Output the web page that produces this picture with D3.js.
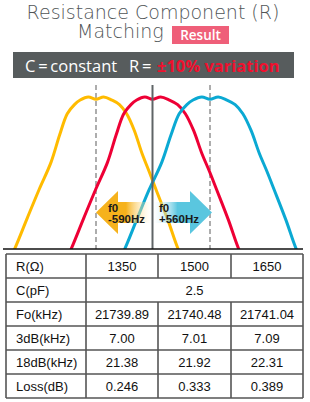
<!DOCTYPE html>
<html>
<head>
<meta charset="utf-8">
<script src="https://cdn.jsdelivr.net/npm/d3@7"></script>
<style>
  body { margin: 0; background: #fff; }
  svg { display: block; }
</style>
</head>
<body>
<div class="chart"></div>
<script>
'use strict';

// nominal shifts of the three resonators (Hz) : R = 1350, 1500, 1650
var shifts = [-590, 0, 560];
var curveColors = ['#ffbb00', '#ee0035', '#0ba9d3'];

// passband shape relative to its own f0 (Hz offset -> relative level)
var shapeHz = [-850, -720, -595, -470, -380, -300, -225, -165, -80, 0, 80, 165, 245, 320, 400, 480, 555, 625, 740, 840];
var shapeLevel = [0, 0.2, 0.39, 0.57, 0.75, 0.89, 0.95, 0.98, 1.0, 0.985, 1.0, 0.98, 0.95, 0.89, 0.78, 0.63, 0.51, 0.39, 0.19, 0];

var shiftLabels = ['-590Hz', '+560Hz'];

// table
var rowLabels = ['R(\u03A9)', 'C(pF)', 'Fo(kHz)', '3dB(kHz)', '18dB(kHz)', 'Loss(dB)'];
var resistance = ['1350', '1500', '1650'];
var capacitance = '2.5';
var foValues = ['21739.89', '21740.48', '21741.04'];
var bw3dB = ['7.00', '7.01', '7.09'];
var bw18dB = ['21.38', '21.92', '22.31'];
var lossValues = ['0.246', '0.333', '0.389'];

var width = 310, height = 402;

var svg = d3.select('div.chart').append('svg')
    .attr('width', width)
    .attr('height', height);

// ---- title ----
var titleFont = '"DejaVu Sans", "Open Sans", sans-serif';
svg.append('text')
    .attr('x', 153).attr('y', 18.5)
    .attr('text-anchor', 'middle')
    .attr('font-family', titleFont)
    .attr('font-weight', 200)
    .attr('font-size', 19)
    .attr('fill', '#505557')
    .text('Resistance Component (R)');

svg.append('text')
    .attr('x', 77).attr('y', 38)
    .attr('font-family', titleFont)
    .attr('font-weight', 200)
    .attr('font-size', 19)
    .attr('fill', '#505557')
    .text('Matching');

svg.append('rect')
    .attr('x', 172).attr('y', 26)
    .attr('width', 57).attr('height', 18)
    .attr('fill', '#ef5f79');
svg.append('text')
    .attr('x', 200.5).attr('y', 40)
    .attr('text-anchor', 'middle')
    .attr('font-family', '"Open Sans", sans-serif')
    .attr('font-weight', 600)
    .attr('font-size', 13.5)
    .attr('fill', '#fff')
    .text('Result');

// ---- condition bar ----
svg.append('rect')
    .attr('x', 13).attr('y', 52)
    .attr('width', 281).attr('height', 26)
    .attr('fill', '#575c5d');

var cond = svg.append('text')
    .attr('x', 25).attr('y', 72)
    .attr('font-family', '"Open Sans", sans-serif')
    .attr('font-size', 16.5)
    .attr('fill', '#fff');
cond.append('tspan').text('C\u2009=\u2009constant');
cond.append('tspan').attr('x', 129).text('R\u2009=\u2009');
cond.append('tspan')
    .attr('x', 157)
    .attr('font-weight', 700)
    .attr('font-size', 16.5)
    .attr('fill', '#f0102e')
    .text('\u00B110% variation');

// ---- response chart ----
var baseY = 249, peakY = 97, topY = 85;

var x = d3.scaleLinear()
    .domain([shifts[0], shifts[1], shifts[2]])
    .range([96, 152.5, 210]);

var y = d3.scaleLinear()
    .domain([0, 1])
    .range([baseY, peakY]);

var defs = svg.append('defs');
defs.append('clipPath').attr('id', 'plotClip')
    .append('rect')
    .attr('x', 0).attr('y', 0)
    .attr('width', width).attr('height', baseY);

var line = d3.line()
    .x(function (d) { return x(d[0]); })
    .y(function (d) { return y(d[1]); })
    .curve(d3.curveCatmullRom.alpha(0.5));

var plot = svg.append('g').attr('clip-path', 'url(#plotClip)');

// dashed guides at shifted f0
plot.selectAll('line.guide')
    .data([shifts[0], shifts[2]])
    .enter().append('line')
    .attr('class', 'guide')
    .attr('x1', function (d) { return x(d); })
    .attr('x2', function (d) { return x(d); })
    .attr('y1', topY).attr('y2', baseY)
    .attr('stroke', '#999')
    .attr('stroke-width', 1.6)
    .attr('stroke-dasharray', '5,3');

plot.selectAll('path.resp')
    .data(shifts)
    .enter().append('path')
    .attr('class', 'resp')
    .attr('d', function (s) {
        var pts = shapeHz.map(function (h, i) { return [s + h, shapeLevel[i]]; });
        pts.unshift([s + shapeHz[0] - 40, -0.05]);
        pts.push([s + shapeHz[shapeHz.length - 1] + 40, -0.05]);
        return line(pts);
    })
    .attr('fill', 'none')
    .attr('stroke', function (d, i) { return curveColors[i]; })
    .attr('stroke-width', 3);

// arrows
var gy = defs.append('linearGradient').attr('id', 'gradLeft')
    .attr('x1', '0%').attr('x2', '100%');
gy.append('stop').attr('offset', '0%').attr('stop-color', '#f6b21c').attr('stop-opacity', 1);
gy.append('stop').attr('offset', '55%').attr('stop-color', '#f6b21c').attr('stop-opacity', 1);
gy.append('stop').attr('offset', '100%').attr('stop-color', '#fff6dc').attr('stop-opacity', 0.1);

var gb = defs.append('linearGradient').attr('id', 'gradRight')
    .attr('x1', '0%').attr('x2', '100%');
gb.append('stop').attr('offset', '0%').attr('stop-color', '#e6f6fb').attr('stop-opacity', 0.1);
gb.append('stop').attr('offset', '40%').attr('stop-color', '#5ac6df').attr('stop-opacity', 1);
gb.append('stop').attr('offset', '100%').attr('stop-color', '#5ac6df').attr('stop-opacity', 1);

var arrowMid = 212.5, headHalf = 21.5, shaftHalf = 10.5, headLen = 22;
function arrowPath(tip, tail) {
    var dir = tip < tail ? 1 : -1;
    var hb = tip + dir * headLen;
    return 'M' + tip + ',' + arrowMid +
        'L' + hb + ',' + (arrowMid - headHalf) +
        'L' + hb + ',' + (arrowMid - shaftHalf) +
        'L' + tail + ',' + (arrowMid - shaftHalf) +
        'L' + tail + ',' + (arrowMid + shaftHalf) +
        'L' + hb + ',' + (arrowMid + shaftHalf) +
        'L' + hb + ',' + (arrowMid + headHalf) + 'Z';
}

svg.append('path')
    .attr('d', arrowPath(x(shifts[0]), x(shifts[1]) - 2))
    .attr('fill', 'url(#gradLeft)');
svg.append('path')
    .attr('d', arrowPath(x(shifts[2]) + 2, x(shifts[1]) + 2))
    .attr('fill', 'url(#gradRight)');

var arrowText = [
    { x: x(shifts[0]) + 12, label: shiftLabels[0] },
    { x: x(shifts[1]) + 6.5, label: shiftLabels[1] }
];
arrowText.forEach(function (t) {
    var tx = svg.append('text')
        .attr('font-family', 'Arial, "Liberation Sans", sans-serif')
        .attr('font-weight', 700)
        .attr('font-size', 11.5)
        .attr('fill', '#1a1a1a');
    tx.append('tspan').attr('x', t.x).attr('y', 211.5).text('f0');
    tx.append('tspan').attr('x', t.x).attr('y', 223).text(t.label);
});

// centre line + baseline
svg.append('line')
    .attr('x1', x(0)).attr('x2', x(0))
    .attr('y1', topY).attr('y2', baseY)
    .attr('stroke', '#5f6466')
    .attr('stroke-width', 2);

svg.append('line')
    .attr('x1', 3).attr('x2', 303)
    .attr('y1', baseY).attr('y2', baseY)
    .attr('stroke', '#111')
    .attr('stroke-width', 1.5);

// ---- table ----
var colEdges = [6, 86, 158, 231, 303];
var rows = d3.scaleBand()
    .domain(rowLabels)
    .range([254, 398]);

var table = svg.append('g');
var cells = [resistance, [capacitance], foValues, bw3dB, bw18dB, lossValues];

rowLabels.forEach(function (lab, r) {
    var yTop = rows(lab), h = rows.bandwidth();
    table.append('text')
        .attr('x', colEdges[0] + 10)
        .attr('y', yTop + h / 2 + 4.5)
        .attr('font-family', 'Arial, "Liberation Sans", sans-serif')
        .attr('font-size', 13)
        .attr('fill', '#111')
        .text(lab);
    var vals = cells[r];
    vals.forEach(function (v, c) {
        var x0, x1;
        if (vals.length === 1) { x0 = colEdges[1]; x1 = colEdges[4]; }
        else { x0 = colEdges[c + 1]; x1 = colEdges[c + 2]; }
        table.append('text')
            .attr('x', (x0 + x1) / 2)
            .attr('y', yTop + h / 2 + 4.5)
            .attr('text-anchor', 'middle')
            .attr('font-family', 'Arial, "Liberation Sans", sans-serif')
            .attr('font-size', 13)
            .attr('fill', '#111')
            .text(v);
    });
});

// horizontal rules
var hLines = rowLabels.map(function (l) { return rows(l); }).concat([398]);
table.selectAll('line.h')
    .data(hLines)
    .enter().append('line')
    .attr('x1', colEdges[0]).attr('x2', colEdges[4])
    .attr('y1', function (d) { return d; })
    .attr('y2', function (d) { return d; })
    .attr('stroke', '#555')
    .attr('stroke-width', 1.6);

// vertical rules (inner ones interrupted on the C row)
colEdges.forEach(function (cx, i) {
    var segs;
    if (i === 2 || i === 3) {
        segs = [[rows(rowLabels[0]), rows(rowLabels[1])], [rows(rowLabels[2]), 398]];
    } else {
        segs = [[254, 398]];
    }
    segs.forEach(function (s) {
        table.append('line')
            .attr('x1', cx).attr('x2', cx)
            .attr('y1', s[0]).attr('y2', s[1])
            .attr('stroke', '#555')
            .attr('stroke-width', 1.6);
    });
});
</script>
</body>
</html>
